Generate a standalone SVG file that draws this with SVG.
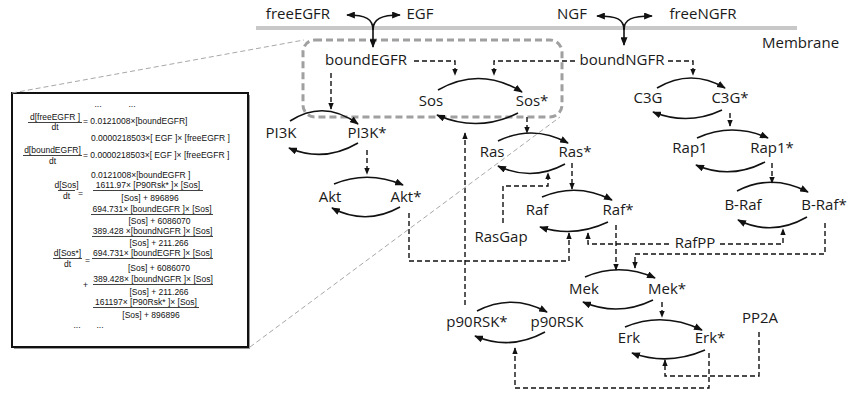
<svg xmlns="http://www.w3.org/2000/svg" width="848" height="394" viewBox="0 0 848 394">
<defs>
<style>
.lbl{font-family:"Open Sans","Liberation Sans",sans-serif;font-size:15px;fill:#1a1a1a;text-anchor:middle}
.eq{font-family:"Liberation Sans","Open Sans",sans-serif;font-size:8.5px;fill:#111}
.m{text-anchor:middle}
.arc{fill:none;stroke:#111;stroke-width:1.6;marker-end:url(#ah)}
.dash{fill:none;stroke:#111;stroke-width:1.4;stroke-dasharray:5,3;marker-end:url(#ahs)}
.bar{stroke:#111;stroke-width:0.8}
.zoom{fill:none;stroke:#a8a8a8;stroke-width:1;stroke-dasharray:5,3}
</style>
<marker id="ah" viewBox="0 0 10 8" refX="9" refY="4" markerWidth="9" markerHeight="7" orient="auto" markerUnits="userSpaceOnUse"><path d="M0,0 L10,4 L0,8 z" fill="#111"/></marker>
<marker id="ahs" viewBox="0 0 10 8" refX="9" refY="4" markerWidth="7" markerHeight="6" orient="auto" markerUnits="userSpaceOnUse"><path d="M0,0 L10,4 L0,8 z" fill="#111"/></marker>
</defs>
<rect width="848" height="394" fill="#fff"/>

<g id="membrane">
<line x1="256" y1="28" x2="797" y2="28" stroke="#c8c8c8" stroke-width="4"/>
<text class="lbl" x="762" y="48" style="text-anchor:start">Membrane</text>
</g>

<g id="zoom-region">
<rect x="303" y="40" width="259" height="77" rx="12" fill="none" stroke="#a0a0a0" stroke-width="3" stroke-dasharray="7,4"/>
</g>

<g id="equations">
<rect x="14" y="95" width="236" height="254" fill="#999"/>
<rect x="12" y="93" width="236" height="254" fill="#fff" stroke="#111" stroke-width="2"/>
<text class="eq m" x="98" y="107">...</text><text class="eq m" x="132" y="107">...</text>
<text class="eq m" x="55" y="120">d[freeEGFR ]</text><line class="bar" x1="28" y1="122.5" x2="82" y2="122.5"/><text class="eq m" x="55" y="130">dt</text>
<text class="eq" x="83" y="124">= 0.0121008×[boundEGFR]</text>
<text class="eq" x="91" y="141">0.0000218503×[ EGF ]× [freeEGFR ]</text>
<text class="eq m" x="52.5" y="153">d[boundEGFR]</text><line class="bar" x1="23" y1="155.5" x2="82" y2="155.5"/><text class="eq m" x="52.5" y="164">dt</text>
<text class="eq" x="83" y="158">= 0.0000218503×[ EGF ]× [freeEGFR ]</text>
<text class="eq" x="91" y="178">0.0121008×[boundEGFR ]</text>
<text class="eq m" x="66.5" y="188">d[Sos]</text><line class="bar" x1="58" y1="190.5" x2="75" y2="190.5"/><text class="eq m" x="66.5" y="199">dt</text>
<text class="eq" x="78" y="196">=</text>
<text class="eq m" x="148" y="188">1611.97× [P90Rsk* ]× [Sos]</text><line class="bar" x1="93" y1="190.5" x2="203" y2="190.5"/><text class="eq m" x="150" y="201">[Sos] + 896896</text>
<text class="eq m" x="152" y="212">694.731× [boundEGFR ]× [Sos]</text><line class="bar" x1="91" y1="214.5" x2="213" y2="214.5"/><text class="eq m" x="159.5" y="224">[Sos] + 6086070</text>
<text class="eq m" x="152.5" y="234">389.428 ×[boundNGFR ]× [Sos]</text><line class="bar" x1="92" y1="236.5" x2="213" y2="236.5"/><text class="eq m" x="159" y="246">[Sos] + 211.266</text>
<text class="eq m" x="67.5" y="256">d[Sos*]</text><line class="bar" x1="53" y1="258.5" x2="82" y2="258.5"/><text class="eq m" x="67.5" y="267">dt</text>
<text class="eq" x="85" y="263">=</text>
<text class="eq m" x="152.5" y="256">694.731× [boundEGFR ]× [Sos]</text><line class="bar" x1="92" y1="258.5" x2="213" y2="258.5"/><text class="eq m" x="159" y="271">[Sos] + 6086070</text>
<text class="eq" x="83" y="288">+</text>
<text class="eq m" x="153" y="282">389.428× [boundNGFR ]× [Sos]</text><line class="bar" x1="93" y1="284.5" x2="213" y2="284.5"/><text class="eq m" x="159" y="295">[Sos] + 211.266</text>
<text class="eq m" x="146" y="305">161197× [P90Rsk* ]× [Sos]</text><line class="bar" x1="93" y1="307.5" x2="199" y2="307.5"/><text class="eq m" x="151" y="318">[Sos] + 896896</text>
<text class="eq m" x="77" y="328">...</text><text class="eq m" x="100" y="328">...</text>
</g>

<g id="n-freeEGFR"><text class="lbl" x="298" y="19">freeEGFR</text></g>
<g id="n-EGF"><text class="lbl" x="420" y="19">EGF</text></g>
<g id="n-NGF"><text class="lbl" x="572" y="19">NGF</text></g>
<g id="n-freeNGFR"><text class="lbl" x="703" y="19">freeNGFR</text></g>
<g id="n-boundEGFR"><text class="lbl" x="366" y="65">boundEGFR</text></g>
<g id="n-boundNGFR"><text class="lbl" x="622" y="65">boundNGFR</text></g>
<g id="n-Sos"><text class="lbl" x="431" y="106">Sos</text></g>
<g id="n-SosA"><text class="lbl" x="532" y="106">Sos*</text></g>
<g id="n-PI3K"><text class="lbl" x="281" y="138">PI3K</text></g>
<g id="n-PI3KA"><text class="lbl" x="367" y="138">PI3K*</text></g>
<g id="n-Akt"><text class="lbl" x="330" y="202">Akt</text></g>
<g id="n-AktA"><text class="lbl" x="406" y="202">Akt*</text></g>
<g id="n-Ras"><text class="lbl" x="492" y="157">Ras</text></g>
<g id="n-RasA"><text class="lbl" x="575" y="157">Ras*</text></g>
<g id="n-Raf"><text class="lbl" x="537" y="215">Raf</text></g>
<g id="n-RafA"><text class="lbl" x="618" y="215">Raf*</text></g>
<g id="n-RasGap"><text class="lbl" x="501" y="242">RasGap</text></g>
<g id="n-RafPP"><text class="lbl" x="695" y="248">RafPP</text></g>
<g id="n-C3G"><text class="lbl" x="648" y="103">C3G</text></g>
<g id="n-C3GA"><text class="lbl" x="730" y="103">C3G*</text></g>
<g id="n-Rap1"><text class="lbl" x="690" y="153">Rap1</text></g>
<g id="n-Rap1A"><text class="lbl" x="772" y="153">Rap1*</text></g>
<g id="n-BRaf"><text class="lbl" x="743" y="210">B-Raf</text></g>
<g id="n-BRafA"><text class="lbl" x="824" y="210">B-Raf*</text></g>
<g id="n-Mek"><text class="lbl" x="584" y="294">Mek</text></g>
<g id="n-MekA"><text class="lbl" x="667" y="294">Mek*</text></g>
<g id="n-Erk"><text class="lbl" x="629" y="343">Erk</text></g>
<g id="n-ErkA"><text class="lbl" x="710" y="343">Erk*</text></g>
<g id="n-p90RSKA"><text class="lbl" x="477" y="327">p90RSK*</text></g>
<g id="n-p90RSK"><text class="lbl" x="557" y="327">p90RSK</text></g>
<g id="n-PP2A"><text class="lbl" x="760" y="323">PP2A</text></g>

<g id="connectors">
<path class="arc" d="M373,30 C373,19 366,15 347,15"/>
<path class="arc" d="M373,30 C373,19 381,15 400,15"/>
<path class="arc" d="M373,24 V47"/>
<path class="arc" d="M624,30 C624,19 617,16 597,16"/>
<path class="arc" d="M624,30 C624,19 632,16 652,16"/>
<path class="arc" d="M624,24 V45"/>
<path class="arc" d="M438,90 Q480,66 522,92"/>
<path class="arc" d="M518,113 Q478,133 437,115"/>
<path class="arc" d="M290,121 Q324,99 358,124"/>
<path class="arc" d="M358,143 Q324,163 289,148"/>
<path class="arc" d="M334,184 Q368,170 403,185"/>
<path class="arc" d="M400,207 Q366,226 332,208"/>
<path class="arc" d="M498,141 Q533,124 568,143"/>
<path class="arc" d="M565,164 Q532,182 498,166"/>
<path class="arc" d="M542,197 Q577,182 612,200"/>
<path class="arc" d="M608,222 Q574,238 540,227"/>
<path class="arc" d="M585,277 Q620,262 655,278"/>
<path class="arc" d="M653,300 Q618,317 583,302"/>
<path class="arc" d="M625,327 Q663,311 702,330"/>
<path class="arc" d="M705,350 Q668,366 632,353"/>
<path class="arc" d="M477,311 Q512,293 547,312"/>
<path class="arc" d="M545,332 Q510,351 475,336"/>
<path class="arc" d="M657,88 Q691,68 725,88"/>
<path class="arc" d="M722,110 Q688,126 653,112"/>
<path class="arc" d="M697,138 Q732,122 768,138"/>
<path class="arc" d="M765,162 Q730,180 696,165"/>
<path class="arc" d="M737,191 Q772,173 808,192"/>
<path class="arc" d="M807,217 Q772,237 738,220"/>
<path class="dash" d="M331,73 V109"/>
<path class="dash" d="M414,61 H455 V75"/>
<path class="dash" d="M575,61 H494 V75"/>
<path class="dash" d="M668,61 H693 V75"/>
<path class="dash" d="M367,150 V174"/>
<path class="dash" d="M527,117 V133"/>
<path class="dash" d="M409,213 V261 H569 V233"/>
<path class="dash" d="M465,305 V133"/>
<path class="dash" d="M572,163 V189"/>
<path class="dash" d="M503,223 V186 H548 V173"/>
<path class="dash" d="M616,225 V270"/>
<path class="dash" d="M669,244 H588 V233"/>
<path class="dash" d="M720,244 H783 V229"/>
<path class="dash" d="M825,223 V254 H635 V268"/>
<path class="dash" d="M772,163 V183"/>
<path class="dash" d="M730,113 V126"/>
<path class="dash" d="M662,302 V317"/>
<path class="dash" d="M759,332 V376 H665 V360"/>
<path class="dash" d="M709,353 V388 H515 V348"/>
</g>

<g id="zoom-lines">
<line class="zoom" x1="12" y1="93" x2="304" y2="40"/>
<line class="zoom" x1="250" y1="347" x2="560" y2="117"/>
</g>
</svg>
